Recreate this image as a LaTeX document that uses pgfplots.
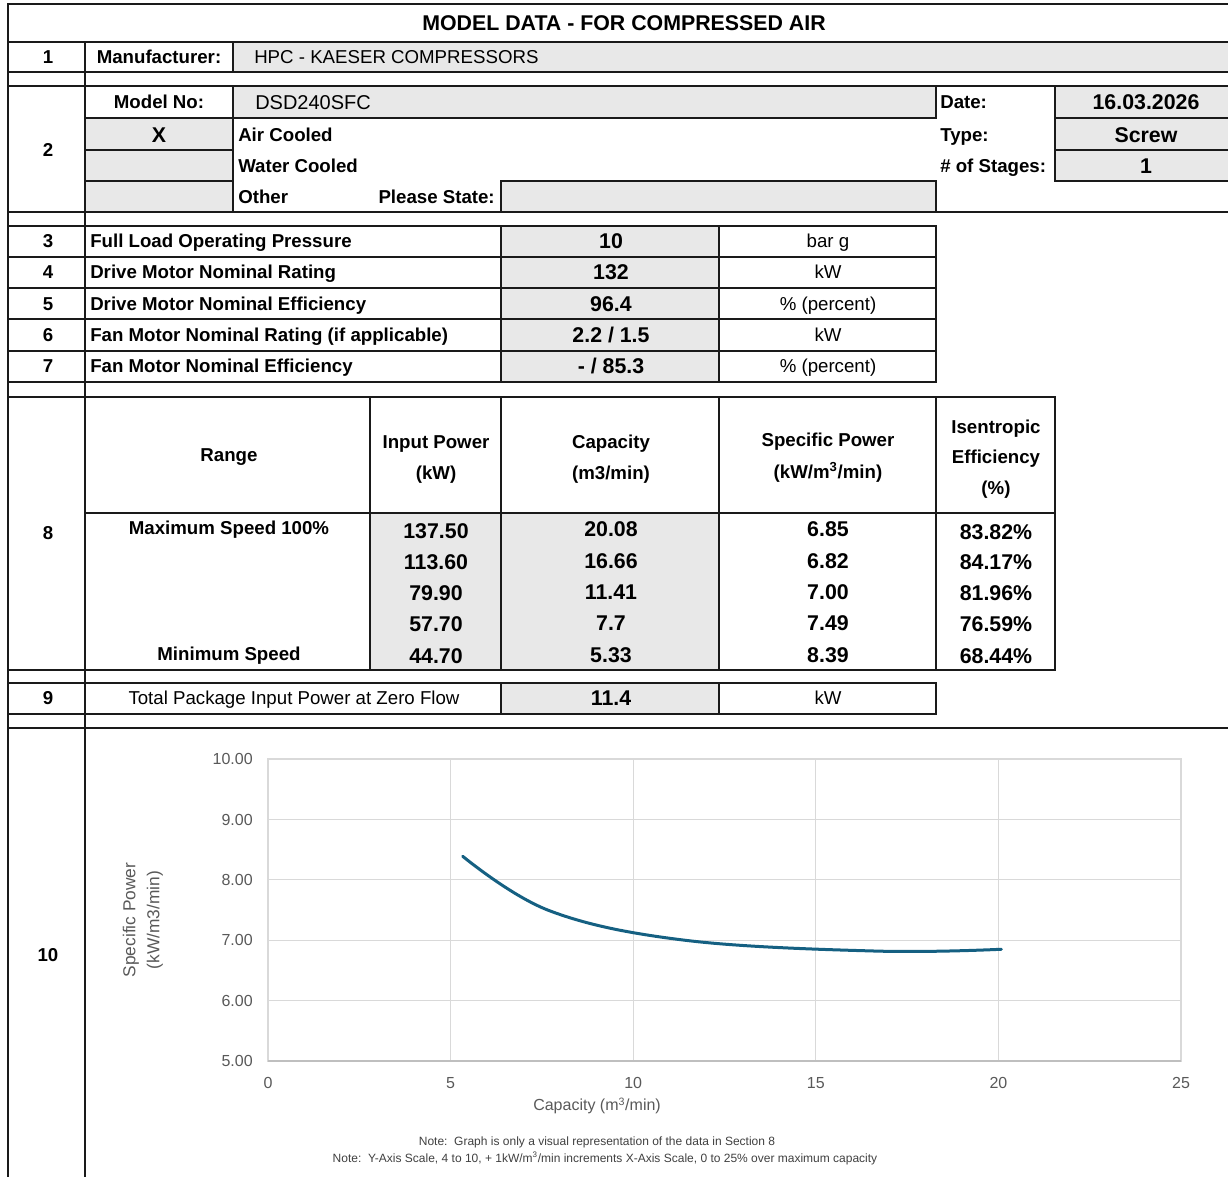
\documentclass[border=0pt]{standalone}
\usepackage{fontspec}
\setmainfont{Liberation Sans}
\usepackage{pgfplots}
\pgfplotsset{compat=1.18}
\definecolor{cellgray}{HTML}{E8E8E8}
\definecolor{gridgray}{HTML}{D9D9D9}
\definecolor{axgray}{HTML}{BFBFBF}
\definecolor{ticktext}{HTML}{595959}
\definecolor{notetext}{HTML}{404040}
\definecolor{lineblue}{HTML}{156082}
\definecolor{linek}{HTML}{1A1A1A}
\tikzset{
 ln/.style={line width=1.5pt, draw=linek, line cap=rect},
 B/.style={font=\fontsize{14}{16}\selectfont\bfseries, inner sep=0pt, text height=10pt, text depth=0pt},
 R/.style={font=\fontsize{14}{16}\selectfont, inner sep=0pt, text height=10pt, text depth=0pt},
 V/.style={font=\fontsize{16}{18}\selectfont\bfseries, inner sep=0pt, text height=11.5pt, text depth=0pt},
}
\begin{document}
\begin{tikzpicture}
\useasboundingbox (0,0) rectangle (921pt,-882.75pt);
\begin{scope}[x=0.75pt,y=-0.75pt]
% ---------- fills
\fill[cellgray] (233,42) rectangle (1228,72);
\fill[cellgray] (233,86) rectangle (936,118);
\fill[cellgray] (85,118) rectangle (233,212);
\fill[cellgray] (501,181) rectangle (936,212);
\fill[cellgray] (1055,86) rectangle (1228,181);
\fill[cellgray] (501,226) rectangle (719,382);
\fill[cellgray] (370,513) rectangle (719,670);
\fill[cellgray] (501,683) rectangle (719,714);
% ---------- horizontal lines
\foreach \y in {4,42,72,86,212,728} \draw[ln] (8,\y) -- (1228,\y);
\foreach \y in {226,257,288,319,351,382,683,714} \draw[ln] (8,\y) -- (936,\y);
\foreach \y in {397,670} \draw[ln] (8,\y) -- (1055,\y);
\draw[ln] (85,513) -- (1055,513);
\draw[ln] (85,118) -- (936,118);
\draw[ln] (85,150) -- (233,150);
\draw[ln] (85,181) -- (233,181);
\draw[ln] (501,181) -- (936,181);
\foreach \y in {118,150,181} \draw[ln] (1055,\y) -- (1228,\y);
% ---------- vertical lines
\draw[ln] (8,4) -- (8,1177);
\draw[ln] (85,42) -- (85,1177);
\draw[ln] (233,42) -- (233,72);
\draw[ln] (233,86) -- (233,212);
\draw[ln] (936,86) -- (936,118);
\draw[ln] (936,181) -- (936,212);
\draw[ln] (501,181) -- (501,212);
\draw[ln] (1055,86) -- (1055,181);
\foreach \x in {501,719,936} {\draw[ln] (\x,226) -- (\x,382); \draw[ln] (\x,683) -- (\x,714);}
\foreach \x in {370,501,719,936,1055} \draw[ln] (\x,397) -- (\x,670);
% ---------- title
\node[font=\fontsize{16}{18}\selectfont\bfseries, inner sep=0pt, text height=11.5pt, text depth=0pt] at (624,23) {MODEL DATA - FOR COMPRESSED AIR};
% ---------- row numbers
\foreach \n/\y in {1/57,2/150,3/241,4/272,5/304,6/335,7/366,8/533,9/698,10/955}
  \node[B] at (48,\y) {\n};
% ---------- section 1-2
\node[B] at (159,57) {Manufacturer:};
\node[R, anchor=west] at (254,57) {HPC - KAESER COMPRESSORS};
\node[B] at (159,102) {Model No:};
\node[font=\fontsize{15}{17}\selectfont, inner sep=0pt, text height=10.7pt, text depth=0pt, anchor=west] at (255,102) {DSD240SFC};
\node[V] at (159,135) {X};
\node[B, anchor=west] at (238,135) {Air Cooled};
\node[B, anchor=west] at (238,166) {Water Cooled};
\node[B, anchor=west] at (238,197) {Other};
\node[B, anchor=east] at (495,197) {Please State:};
\node[B, anchor=west] at (940,102) {Date:};
\node[B, anchor=west] at (940,135) {Type:};
\node[B, anchor=west] at (940,166) {\# of Stages:};
\node[V] at (1146,102) {16.03.2026};
\node[V] at (1146,135) {Screw};
\node[V] at (1146,166) {1};
% ---------- rows 3-7
\node[B, anchor=west] at (90,241) {Full Load Operating Pressure};
\node[B, anchor=west] at (90,272) {Drive Motor Nominal Rating};
\node[B, anchor=west] at (90,304) {Drive Motor Nominal Efficiency};
\node[B, anchor=west] at (90,335) {Fan Motor Nominal Rating (if applicable)};
\node[B, anchor=west] at (90,366) {Fan Motor Nominal Efficiency};
\node[V] at (611,241) {10};
\node[V] at (611,272) {132};
\node[V] at (611,304) {96.4};
\node[V] at (611,335) {2.2 / 1.5};
\node[V] at (611,366) {- / 85.3};
\node[R] at (828,241) {bar g};
\node[R] at (828,272) {kW};
\node[R] at (828,304) {\% (percent)};
\node[R] at (828,335) {kW};
\node[R] at (828,366) {\% (percent)};
% ---------- section 8 header
\node[B] at (229,455) {Range};
\node[B] at (436,442) {Input Power};
\node[B] at (436,473) {(kW)};
\node[B] at (611,442) {Capacity};
\node[B] at (611,473) {(m3/min)};
\node[B] at (828,440) {Specific Power};
\node[B] at (828,472) {(kW/m\textsuperscript{3}/min)};
\node[B] at (996,427) {Isentropic};
\node[B] at (996,457) {Efficiency};
\node[B] at (996,488) {(\%)};
% ---------- section 8 data
\node[B] at (229,528) {Maximum Speed 100\%};
\node[B] at (229,654) {Minimum Speed};
\foreach \v/\y in {137.50/531,113.60/562,79.90/593,57.70/624,44.70/656} \node[V] at (436,\y) {\v};
\foreach \v/\y in {20.08/529,16.66/561,11.41/592,7.7/623,5.33/655} \node[V] at (611,\y) {\v};
\foreach \v/\y in {6.85/529,6.82/561,7.00/592,7.49/623,8.39/655} \node[V] at (828,\y) {\v};
\foreach \v/\y in {83.82/532,84.17/562,81.96/593,76.59/624,68.44/656} \node[V] at (996,\y) {\v\%};
% ---------- row 9
\node[R] at (294,698) {Total Package Input Power at Zero Flow};
\node[V] at (611,698) {11.4};
\node[R] at (828,698) {kW};
% ---------- notes
\node[font=\fontsize{9}{10}\selectfont, text=notetext, inner sep=0pt] at (597,1142) {Note:\ \ Graph is only a visual representation of the data in Section 8};
\node[font=\fontsize{9}{10}\selectfont, text=notetext, inner sep=0pt] at (605,1158) {Note:\ \ Y-Axis Scale, 4 to 10, + 1kW/m\textsuperscript{3}/min increments X-Axis Scale, 0 to 25\% over maximum capacity};
\end{scope}
\begin{axis}[
 at={(201pt,-795.75pt)}, anchor=south west,
 scale only axis, width=684.75pt, height=226.5pt,
 xmin=0, xmax=25, ymin=5, ymax=10,
 xtick={0,5,10,15,20,25}, ytick={5,6,7,8,9,10},
 grid=major,
 major grid style={draw=gridgray, line width=0.9pt},
 axis line style={draw=gridgray, line width=0.9pt},
 major tick length=0pt,
 /pgf/number format/assume math mode=true,
 tick label style={font=\fontsize{12}{14}\selectfont, text=ticktext, inner sep=0pt, text height=8.6pt, text depth=0pt},
 xticklabel style={anchor=center, yshift=-16.5pt},
 xlabel={Capacity (m\textsuperscript{3}/min)},
 xlabel style={at={(axis description cs:0.3604,-0.149)}, anchor=center, font=\fontsize{12}{14}\selectfont, text=ticktext},
 ylabel={Specific Power\\(kW/m3/min)},
 ylabel style={at={(axis description cs:-0.1369,0.467)}, anchor=center, align=center, font=\fontsize{13}{18}\selectfont, text=ticktext},
 yticklabel style={anchor=east, xshift=-11.25pt, /pgf/number format/.cd, fixed, fixed zerofill, precision=2},
]
\draw[axgray, line width=1pt] (axis cs:0,5) -- (axis cs:25,5);
\addplot[color=lineblue, line width=2.25pt, smooth, tension=0.62, line cap=round] coordinates {
 (20.08,6.85) (16.66,6.82) (11.41,7.00) (7.7,7.49) (5.33,8.39)
};
\end{axis}
\end{tikzpicture}
\end{document}
